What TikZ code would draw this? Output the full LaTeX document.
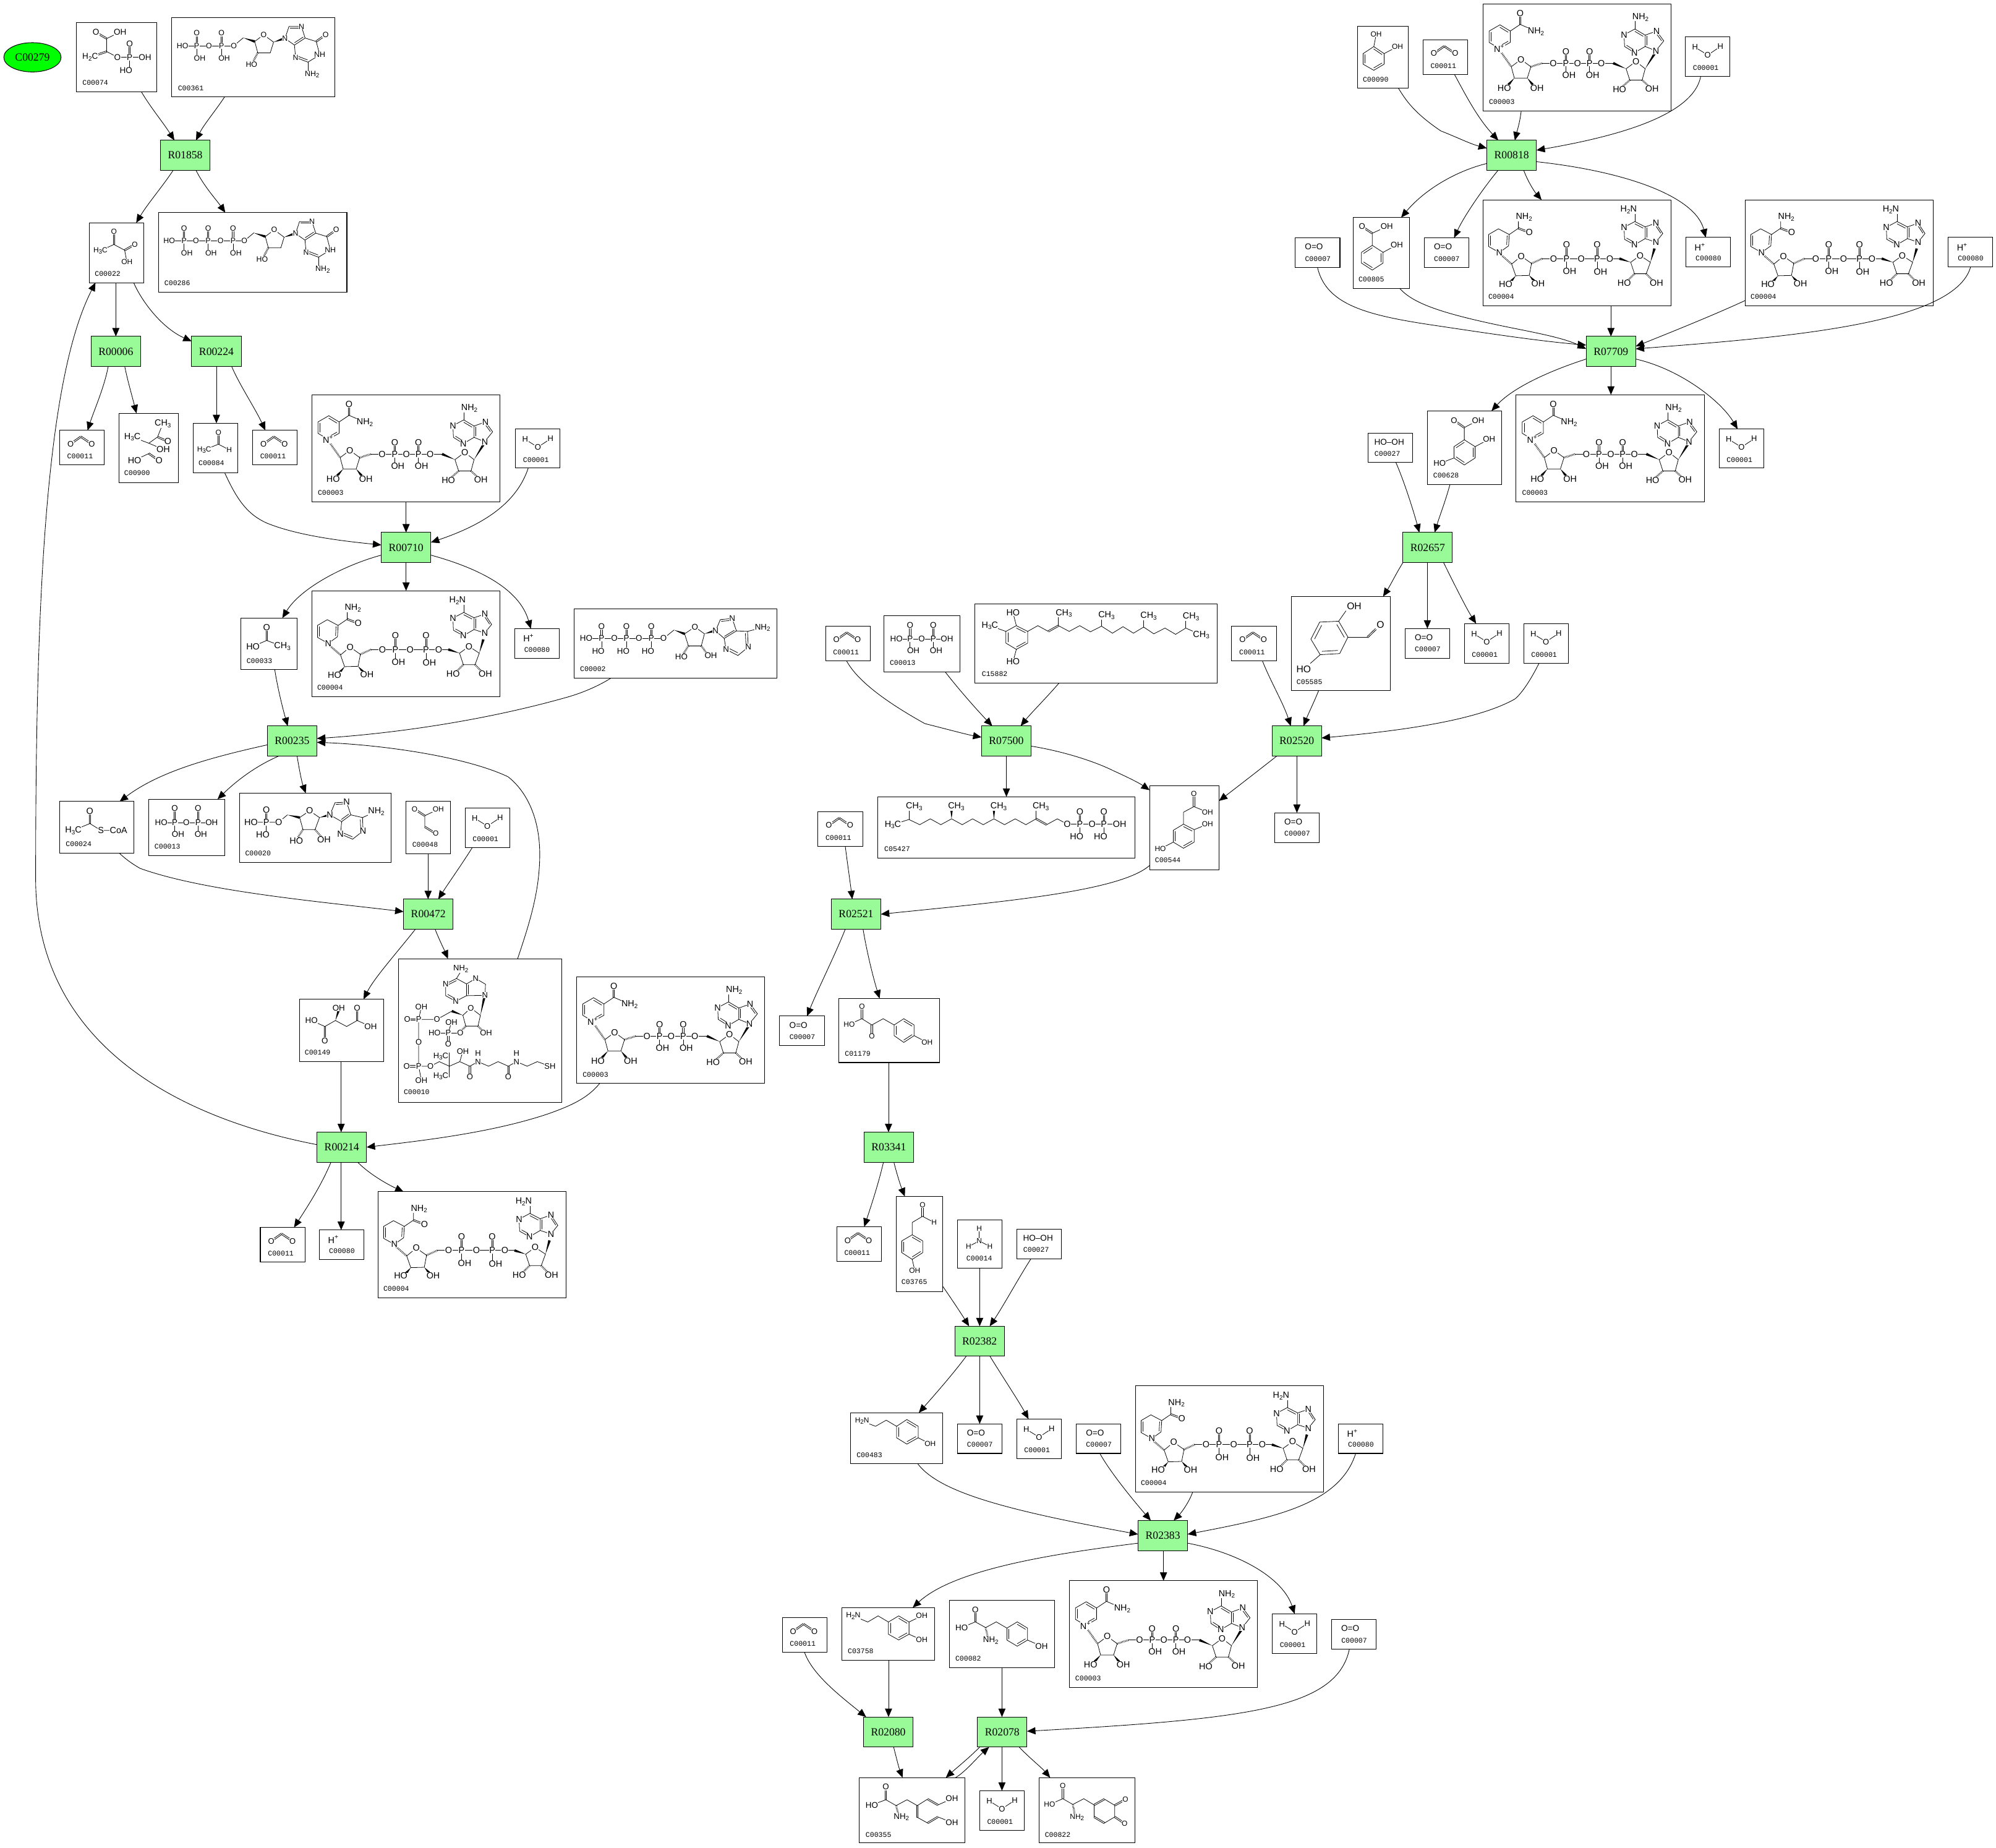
\documentclass[tikz,border=0pt]{standalone}
\usepackage{fontspec}
\setmainfont{Liberation Sans}
\newfontfamily\rxnfont{Liberation Serif}
\newfontfamily\cidfont{Liberation Mono}
\usetikzlibrary{arrows.meta,calc,shapes.geometric}
\definecolor{rxngreen}{RGB}{152,251,152}
\definecolor{hitgreen}{RGB}{0,255,0}
\tikzset{
 bd/.style={line width=.38pt,line cap=round},
 atom/.style={font=\fontsize{7}{7}\selectfont,fill=white,inner sep=.2pt},
 cidl/.style={font=\cidfont\fontsize{5.6}{5.6}\selectfont,anchor=west,inner sep=0pt},
 cpd/.style={draw=black,fill=white,rectangle,inner sep=0pt,outer sep=0pt,line width=.5pt},
 rxn/.style={draw=black,fill=rxngreen,rectangle,inner sep=0pt,outer sep=0pt,line width=.5pt,minimum width=39pt,minimum height=23.6pt,font=\rxnfont\fontsize{8.6}{8.6}\selectfont},
 e/.style={line width=.42pt,-{Triangle[length=6.6pt,width=5.6pt]}},
}
\newcommand\dn[1]{\raisebox{-.35ex}{\fontsize{4.8}{4.8}\selectfont #1}}
\newcount\atn
\newcount\idn
\newcommand\Asz[1]{\tikzset{atom/.append style={font=\fontsize{#1}{#1}\selectfont}}}
\newcommand\At[3]{\global\advance\atn by 1 \node[atom] (at\the\atn) at (#1,#2) {#3};}
\newcommand\Id[3]{\global\advance\idn by 1 \node[cidl] (id\the\idn) at (#1,#2) {#3};}
\newcommand\Ln[1]{\draw[bd] #1;}
\newcommand\Db[2]{\draw[bd] ($(#1)!.55pt!90:(#2)$) -- ($(#2)!.55pt!-90:(#1)$);\draw[bd] ($(#1)!.55pt!-90:(#2)$) -- ($(#2)!.55pt!90:(#1)$);}
\newcommand\Ri[3]{\draw[bd] ($(#2)!.2!(#1)$) -- ($(#3)!.2!(#1)$);}
\newcommand\Wd[2]{\fill (#1) -- ($(#2)!1pt!90:(#1)$) -- ($(#2)!1pt!-90:(#1)$) -- cycle;}
\newcommand\Hs[2]{\draw[line width=1.5pt,dash pattern=on .35pt off .75pt] (#1) -- (#2);}
\newcommand\PG[6]{\Db{#1,#2}{#1,#3}\Ln{(#1,#2)--(#1,#5)}\At{#1}{#3}{O}\At{#4}{#5}{#6}\At{#1}{#2}{P}}
\newcommand\Cp[6]{\node[cpd,minimum width={(#4-#2)*1pt},minimum height={(#5-#3)*1pt}] (#1) at ({(#2+#4)/2},{(#3+#5)/2}) {};
 \begin{scope}[shift={(#2,#3)}]#6\end{scope}}
\newcommand\Rx[3]{\node[rxn] (#1) at (#2,#3) {\MakeUppercase{#1}};}
% small molecules
\newcommand\Mwat{\Asz{6.3}\Ln{(7.6,8.1)--(17.5,14.2)--(27.5,7.6)}\At{7.6}{8.1}{H}\At{17.5}{14.2}{O}\At{27.5}{7.6}{H}\Id{5.7}{24.3}{C00001}}
\newcommand\Mcot{\Asz{6.3}\Db{16.7,5}{8.6,10.7}\Db{16.7,5}{25.3,10.7}\At{8.6}{10.7}{O}\At{25.3}{10.7}{O}\Id{5.8}{20.4}{C00011}}
\newcommand\Moxy{\Asz{6.6}\At{14.7}{7.1}{O=O}\Id{7.5}{16.4}{C00007}}
\newcommand\Mhyd{\At{11}{7.4}{H\textsuperscript{+}}\Id{7.3}{16.4}{C00080}}
\newcommand\Mperox{\Asz{6.6}\At{16.7}{7.2}{HO--OH}\Id{5}{16.2}{C00027}}
\newcommand\Mamm{\Asz{5.8}\Ln{(17.3,6.8)--(17.3,16.4)}\Ln{(8.9,20.8)--(17.3,16.4)--(25.6,20.8)}\At{17.3}{6.8}{H}\At{17.3}{16.4}{N}\At{8.9}{20.8}{H}\At{25.6}{20.8}{H}\Id{7}{30}{C00014}}
% NAD+
\newcommand\Mnad{%
 \Ln{(13.3,16.5)--(21.4,21.4)--(21.4,30.3)--(12.8,35.1)--(4.8,30.3)--(4.8,21.4)--cycle}
 \Ri{13,26}{13.3,16.5}{21.4,21.4}\Ri{13,26}{21.4,30.3}{12.8,35.1}\Ri{13,26}{4.8,30.3}{4.8,21.4}
 \Ln{(21.4,21.4)--(29.2,16.2)--(38,20)}\Db{29.2,16.2}{29.2,8}
 \Hs{12.8,36}{22.2,49.4}
 \Ln{(22.2,49.4)--(29.8,43.7)--(37.6,49.4)--(34.8,58.3)--(24.6,58.3)--cycle}
 \Wd{24.6,58.3}{20,63.5}\Wd{34.8,58.3}{39,63.5}
 \Hs{37.6,49.4}{46.5,46.6}
 \Ln{(46.5,46.6)--(102.3,46.6)}\Wd{112.4,51}{102.3,46.6}
 \Ln{(112.4,51)--(120.1,45.3)--(127.4,51)--(125,59.9)--(115.3,59.9)--cycle}
 \Hs{115.3,59.9}{109.5,65}\Hs{125,59.9}{130.5,65}
 \Wd{127.4,51}{135.2,38.5}
 \Ln{(135.8,36.9)--(142,29.1)--(136.3,21.4)--(127.4,24.6)--(127.4,33.5)--(119,38.4)--(111.2,33.5)--(110.8,24.3)--(119.3,19.8)--(127.4,24.6)}
 \Ln{(127.4,33.5)--(135.8,36.9)}\Ln{(119.3,19.8)--(119.3,12.5)}
 \Ri{119.3,29}{119.3,19.8}{127.4,24.6}\Ri{119.3,29}{111.2,33.5}{119,38.4}\Ri{133,28}{127.4,24.6}{127.4,33.5}\Ri{133,28}{142,29.1}{136.3,21.4}
 \At{12.8}{35.1}{N\textsuperscript{+}}\At{29.2}{7.3}{O}\At{41.6}{21.9}{NH\dn2}\At{29.8}{43.7}{O}\At{16.7}{66}{HO}\At{42.4}{66}{OH}
 \At{55.2}{46.6}{O}\PG{65.1}{46.6}{37.6}{67.5}{55.9}{OH}\At{74.3}{46.6}{O}\PG{83.7}{46.6}{37.6}{86.1}{55.9}{OH}\At{92.9}{46.6}{O}
 \At{120.1}{45.3}{O}\At{107.2}{67.2}{HO}\At{132.8}{66.7}{OH}\At{135.8}{36.9}{N}\At{136.3}{21.4}{N}\At{119}{38.4}{N}\At{110.8}{24.3}{N}\At{123.7}{10.5}{NH\dn2}
 \Id{4.5}{76.9}{C00003}}
% NADH
\newcommand\Mnadh{%
 \Ln{(12.1,22.7)--(20.6,27.2)--(20.1,36.1)--(12.8,41.3)--(4.4,36.6)--(4.4,27.2)--cycle}
 \Ri{12.5,32}{20.6,27.2}{20.1,36.1}\Ri{12.5,32}{4.4,36.6}{4.4,27.2}
 \Ln{(20.6,27.2)--(27.8,22.3)--(27.8,15.9)}\Db{27.8,22.3}{36.4,25.6}
 \Hs{12.8,42}{22.5,50.4}
 \Ln{(22.5,50.4)--(30,44.2)--(38.1,49.9)--(36.3,59.3)--(25.7,59.6)--cycle}
 \Wd{25.7,59.6}{22,64}\Wd{36.3,59.3}{40,63.5}
 \Hs{38.1,49.9}{46.5,46.1}
 \Ln{(46.5,46.1)--(107.2,46.1)}\Wd{116,49}{107.2,46.1}
 \Ln{(116,49)--(123.4,43.7)--(131.5,49)--(128.2,58)--(119,58)--cycle}
 \Hs{119,58}{113.5,63.5}\Hs{128.2,58}{133.5,63.5}
 \Wd{131.5,49}{134.7,38.2}
 \Ln{(135.8,33.2)--(141.2,26.4)--(135.8,18.3)--(127.4,21.2)--(127.4,30.4)--(119,35.3)--(111.2,31)--(110.8,21.5)--(119.3,17)--(127.4,21.2)}
 \Ln{(127.4,30.4)--(135.8,33.2)}\Ln{(119.3,17)--(119.3,10.2)}
 \Ri{119.3,26}{119.3,17}{127.4,21.2}\Ri{119.3,26}{111.2,31}{119,35.3}\Ri{133,25}{127.4,21.2}{127.4,30.4}\Ri{133,25}{141.2,26.4}{135.8,18.3}
 \At{12.8}{41.3}{N}\At{36.4}{25.6}{O}\At{32.2}{13.4}{NH\dn2}\At{30}{44.2}{O}\At{17.8}{66.1}{HO}\At{43.3}{65.7}{OH}
 \At{55.4}{46.1}{O}\PG{65.6}{46.1}{35.3}{68}{56}{OH}\At{77.2}{46.1}{O}\PG{89.7}{46.1}{35.3}{92.3}{56.7}{OH}\At{99.6}{46.1}{O}
 \At{123.4}{43.7}{O}\At{110.9}{65.3}{HO}\At{136.3}{65.3}{OH}\At{135.8}{33.2}{N}\At{135.8}{18.3}{N}\At{119}{35.3}{N}\At{110.8}{21.5}{N}\At{114.4}{7.8}{H\dn2N}
 \Id{4}{76}{C00004}}
% deoxyguanosine part, in C00361 coordinates
\newcommand\Dgn{%
 \Ln{(48.7,21.9)--(56.1,15.7)}\Wd{56.1,15.7}{65.1,18.6}
 \Ln{(65.1,18.6)--(72.1,13.3)--(79.9,19.1)--(77.3,27.5)--(67.5,27.5)--cycle}
 \Hs{67.5,27.5}{64,34}\Wd{79.9,19.1}{87.5,16.5}
 \Ln{(88.9,16.2)--(92,6.8)--(101.8,6.8)--(104.7,15.9)--(96.3,21.4)--(88.9,16.2)}
 \Ln{(104.7,15.9)--(113.4,18.6)--(116.2,29.1)--(106.9,34.8)--(97.2,31.1)--(96.3,21.4)}
 \Ln{(106.9,34.8)--(106.9,42)}\Db{113.4,18.6}{120.8,13.3}
 \Ri{97,12}{92,6.8}{101.8,6.8}\Ri{97,12}{104.7,15.9}{96.3,21.4}\Ri{105,26}{97.2,31.1}{106.9,34.8}
 \At{72.1}{13.3}{O}\At{62.6}{36.4}{HO}\At{88.9}{16.2}{N}\At{101.8}{6.8}{N}\At{97.2}{31.1}{N}\At{116.2}{29.1}{NH}\At{120.8}{13.3}{O}\At{110.2}{44.5}{NH\dn2}}
\newcommand\Mgdp{\Asz{6}%
 \Ln{(8.4,21.9)--(48.7,21.9)}
 \At{8.4}{21.9}{HO}\PG{19.5}{21.9}{12.1}{21.9}{31.6}{OH}\At{29.2}{21.9}{O}\PG{39}{21.9}{12.1}{41.1}{31.6}{OH}
 \Dgn\At{48.7}{21.9}{O}\Id{4.6}{55.4}{C00361}}
\newcommand\Mgtp{\Asz{6}%
 \Ln{(8.4,22)--(67.9,22)}
 \At{8.4}{22}{HO}\PG{20.1}{22}{12.3}{22.3}{31.7}{OH}\At{29.4}{22}{O}\PG{39}{22}{12.3}{41.3}{31.7}{OH}\At{48.7}{22}{O}\PG{58.6}{22}{12.3}{60.8}{31.7}{OH}
 \begin{scope}[shift={(18.8,.2)}]\Dgn\At{48.7}{21.8}{O}\end{scope}\Id{4.5}{55.5}{C00286}}
\newcommand\Mpep{\Asz{6.6}%
 \Db{23.8,12.8}{15.4,7.9}\Ln{(34.4,7.6)--(23.8,12.8)--(23.8,23)}\Db{23.8,23}{10.8,27.4}\Ln{(23.8,23)--(32.2,27.4)--(53.9,27.4)}
 \At{15.4}{7.9}{O}\At{34.4}{7.6}{OH}\At{10.8}{27.4}{H\dn2C}\At{32.2}{27.4}{O}\PG{41.8}{27.4}{16.8}{39}{37.9}{HO}\At{53.9}{27.4}{OH}\Id{4.6}{47.6}{C00074}}
\newcommand\Mpyr{\Asz{5.8}%
 \Db{19.5,17}{19.5,6.8}\Ln{(8.9,21.9)--(19.5,17)--(27.9,21.5)--(29.7,30.8)}\Db{27.9,21.5}{35.9,17}
 \At{19.5}{6.8}{O}\At{8.9}{21.9}{H\dn3C}\At{35.9}{17}{O}\At{29.7}{30.8}{OH}\Id{4.3}{40}{C00022}}
\newcommand\Mace{%
 \Ln{(34.5,8.1)--(30.4,18.6)--(23.5,23.5)--(10.6,18.6)}\Ln{(23.5,23.5)--(34.8,28.3)}\Db{30.4,18.6}{38.5,22.2}
 \Ln{(12.3,36.9)--(23.5,31.6)}\Db{23.5,31.6}{31.6,37.2}
 \At{34.5}{8.1}{CH\dn3}\At{10.6}{18.6}{H\dn3C}\At{38.5}{22.2}{O}\At{34.8}{28.3}{OH}\At{12.3}{36.9}{HO}\At{31.6}{37.2}{O}\Id{4}{46.9}{C00900}}
\newcommand\Mald{\Asz{5.8}%
 \Db{19.8,16.5}{19.8,7.1}\Ln{(8.6,20.9)--(19.8,16.5)--(28.3,20.9)}
 \At{19.8}{7.1}{O}\At{28.3}{20.9}{H}\At{8.6}{20.9}{H\dn3C}\Id{4}{31.4}{C00084}}
\newcommand\Maca{%
 \Db{20.4,17.6}{20.4,7.6}\Ln{(9.6,22.3)--(20.4,17.6)--(32.7,22.3)}
 \At{20.4}{7.6}{O}\At{9.6}{22.3}{HO}\At{32.7}{22.3}{CH\dn3}\Id{4.4}{33.5}{C00033}}
\newcommand\Matp{\Asz{6.5}%
 \Ln{(9.5,23.1)--(70.3,23.1)}
 \At{9.5}{23.1}{HO}\PG{21.6}{23.1}{13.7}{19}{32.9}{HO}\At{31.6}{23.1}{O}\PG{41.1}{23.1}{13.7}{38.6}{32.9}{HO}\At{50.9}{23.1}{O}\PG{60.7}{23.1}{13.7}{58}{32.9}{HO}
 \Ln{(70.3,23.1)--(78.5,16.5)}\Wd{78.5,16.5}{86.8,19.5}
 \Ln{(86.8,19.5)--(94.9,14.1)--(102.4,19.5)--(99.9,29)--(89.8,29)--cycle}
 \Hs{89.8,29}{86,35}\Hs{99.9,29}{104,34.5}\Wd{102.4,19.5}{110,17.2}
 \Ln{(111.1,17.2)--(114.9,8.3)--(124.2,7.5)--(127.5,17.2)--(117.9,23.1)--(111.1,17.2)}
 \Ln{(127.5,17.2)--(136.2,17.6)--(136.8,29.9)--(128.7,36.5)--(119.4,31.8)--(117.9,23.1)}\Ln{(136.2,17.6)--(148,14.6)}
 \Ri{119,15}{114.9,8.3}{124.2,7.5}\Ri{119,15}{127.5,17.2}{117.9,23.1}\Ri{128,26}{136.2,17.6}{136.8,29.9}\Ri{128,26}{119.4,31.8}{128.7,36.5}
 \At{70.3}{23.1}{O}\At{94.9}{14.1}{O}\At{84.3}{37.6}{HO}\At{107.4}{36.5}{OH}\At{111.1}{17.2}{N}\At{124.2}{7.5}{N}\At{119.4}{31.8}{N}\At{136.8}{29.9}{N}\At{148}{14.6}{NH\dn2}
 \Id{4.5}{47.3}{C00002}}
\newcommand\Mamp{%
 \Ln{(9,22.7)--(30.7,22.7)--(37.6,17)}\Wd{37.6,17}{47.2,19.1}
 \Ln{(47.2,19.1)--(55,13.8)--(62.8,19.1)--(59.3,28.5)--(49.8,28.5)--cycle}
 \Hs{49.8,28.5}{46,34.5}\Hs{59.3,28.5}{64,34}\Wd{62.8,19.1}{70,17.2}
 \Ln{(71,17)--(75,7.4)--(84.1,7)--(87.4,17)--(80.2,22.3)--(71,17)}
 \Ln{(87.4,17)--(96.6,19.1)--(97,29.6)--(88.8,36.1)--(79.3,32)--(80.2,22.3)}\Ln{(96.6,19.1)--(107.4,14.2)}
 \Ri{79,14}{75,7.4}{84.1,7}\Ri{79,14}{87.4,17}{80.2,22.3}\Ri{88,27}{96.6,19.1}{97,29.6}\Ri{88,27}{79.3,32}{88.8,36.1}
 \At{9}{22.7}{HO}\PG{21}{22.7}{13.1}{18.2}{32.4}{HO}\At{30.7}{22.7}{O}\At{55}{13.8}{O}\At{44.6}{37.2}{HO}\At{66.3}{36.4}{OH}\At{71}{17}{N}\At{84.1}{7}{N}\At{79.3}{32}{N}\At{97}{29.6}{N}\At{107.4}{14.2}{NH\dn2}
 \Id{4.2}{47}{C00020}}
\newcommand\Mppi{\Asz{6.5}%
 \Ln{(9.9,18.3)--(49.6,18.3)}
 \At{9.9}{18.3}{HO}\PG{20.6}{18.3}{7.3}{23.2}{27.5}{OH}\At{29.7}{18.3}{O}\PG{38.9}{18.3}{7.3}{41.1}{27.5}{OH}\At{49.6}{18.3}{OH}\Id{4.5}{37.2}{C00013}}
\newcommand\Macoa{%
 \Db{23.8,17.3}{23.8,7.6}\Ln{(10.8,22.7)--(23.8,17.3)--(32.5,22.7)--(40,22.7)}
 \At{23.8}{7.6}{O}\At{10.8}{22.7}{H\dn3C}\At{32.5}{22.7}{S}\At{46.3}{22.7}{CoA}\Id{4.7}{33.5}{C00024}}
\newcommand\Mglx{\Asz{5.8}%
 \Db{15,11.3}{7,6.1}\Ln{(25.6,6.1)--(15,11.3)--(15,20)}\Db{15,20}{23.6,25.3}
 \At{7}{6.1}{O}\At{25.6}{6.1}{OH}\At{23.6}{25.3}{O}\Id{5}{34.1}{C00048}}
\newcommand\Mmal{\Asz{6.5}%
 \Ln{(9.5,16.7)--(20,21.4)--(28.3,16.7)--(37.1,21.4)--(45.4,16.7)--(56,21.4)}\Db{20,21.4}{20,32.5}\Db{45.4,16.7}{45.4,7}\Wd{28.3,16.7}{30.9,8.5}
 \At{9.5}{16.7}{HO}\At{20}{32.5}{O}\At{30.9}{7}{OH}\At{45.4}{7}{O}\At{56}{21.4}{OH}\Id{4}{41.9}{C00149}}
\newcommand\Mcoa{\Asz{6.3}%
 \Ln{(49,10)--(45.6,15.5)--(37.1,19.8)--(37.1,29)--(45,33.4)--(53.5,29)--(53.5,19.8)--(45.6,15.5)}
 \Ln{(53.5,19.8)--(60.7,15.5)--(68.4,20)--(68,28.7)--(53.5,29)}
 \Ri{45,24}{45.6,15.5}{37.1,19.8}\Ri{45,24}{37.1,29}{45,33.4}\Ri{60,23}{53.5,19.8}{53.5,29}
 \Wd{64.4,44.4}{67.5,30}
 \Ln{(64.4,44.4)--(56.9,38.7)--(50.6,44.4)--(52.9,52.9)--(62.5,52.9)--cycle}
 \Hs{62.5,52.9}{66,56.5}\Wd{50.6,44.4}{42,41.1}
 \Ln{(42,41.1)--(30.3,47.6)--(15.9,47.6)--(15.9,84.4)--(25.2,84.4)--(32.1,80.8)--(40,84.4)--(48.2,80.8)--(56.1,84.4)--(62.5,80.8)--(70.8,84.4)--(78.3,80.8)--(86.3,84.4)--(92.8,80.8)--(101.1,84.4)--(109.1,80.8)--(119,84.4)}
 \Ln{(40,73.8)--(40,92.9)}\Ln{(48.2,80.8)--(50.6,72.7)}\Db{56.1,84.4}{56.1,92.9}\Db{86.3,84.4}{86.3,92.9}
 \Ln{(18,37.9)--(15.9,47.6)}\Db{15.9,47.6}{6.9,47.6}\Db{15.9,84.4}{6.5,84.4}\Ln{(15.9,84.4)--(18,95.4)}
 \Hs{52.9,52.9}{48.6,57.5}\Ln{(48.6,58.4)--(28.4,58.4)}\Ln{(39.1,58.4)--(41.6,50)}\Db{39.1,58.4}{39.1,67}
 \At{49}{7.9}{NH\dn2}\At{37.1}{19.8}{N}\At{45}{33.4}{N}\At{60.7}{15.5}{N}\At{68}{28.7}{N}\At{56.9}{38.7}{O}\At{68.8}{58.4}{OH}
 \At{30.3}{47.6}{O}\At{15.9}{47.6}{P}\At{18}{37.9}{OH}\At{6.9}{47.6}{O}\At{15.9}{65.7}{O}\At{15.9}{84.4}{P}\At{6.5}{84.4}{O}\At{18}{95.4}{OH}\At{25.2}{84.4}{O}
 \At{33.3}{76.7}{H\dn3C}\At{33.3}{92.1}{H\dn3C}\At{50.6}{72.7}{OH}\At{56.1}{92.9}{O}\At{62.5}{80.8}{N}\At{62.5}{74}{H}\At{86.3}{92.9}{O}\At{92.8}{80.8}{N}\At{92.8}{74}{H}\At{119}{84.4}{SH}
 \At{48.6}{58.4}{O}\At{39.1}{58.4}{P}\At{41.6}{50}{OH}\At{28.4}{58.4}{HO}\At{39.1}{67}{O}\Id{4}{104.8}{C00010}}
\newcommand\Mdmh{%
 \Ln{(32.7,17.2)--(41.6,21.7)--(41.6,30.9)--(32.7,35.8)--(24.5,30.9)--(24.5,21.7)--cycle}
 \Ri{33,26.5}{32.7,17.2}{41.6,21.7}\Ri{33,26.5}{41.6,30.9}{32.7,35.8}\Ri{33,26.5}{24.5,30.9}{24.5,21.7}
 \Ln{(30.1,7.1)--(32.7,17.2)}\Ln{(11.9,17.2)--(24.5,21.7)}\Ln{(32.7,35.8)--(30.1,45.5)}
 \Ln{(41.6,21.7)--(49.6,17.2)--(57.8,21.7)}\Db{57.8,21.7}{65.8,17.2}
 \Ln{(65.8,17.2)--(74.2,21.7)--(82.5,17.2)--(90.9,22)--(99.6,17.6)--(108.2,23.1)--(116.5,18)--(124.7,23.1)--(132.7,18.3)--(140.7,23.6)--(149.5,19.1)--(157.8,24)--(165.8,19.1)--(177.9,24.4)}
 \Ln{(65.8,17.2)--(65.8,10.7)}\Ln{(99.6,17.6)--(99.6,11)}\Ln{(132.7,18.3)--(132.7,12)}\Ln{(165.8,19.1)--(165.8,12.5)}
 \At{30.1}{7.1}{HO}\At{11.9}{17.2}{H\dn3C}\At{30.1}{45.5}{HO}\At{70}{7.4}{CH\dn3}\At{103.5}{9}{CH\dn3}\At{136.6}{9.6}{CH\dn3}\At{169.9}{10.2}{CH\dn3}\At{177.9}{24.4}{CH\dn3}
 \Id{5.4}{55.2}{C15882}}
\newcommand\Mppp{%
 \Ln{(11.9,21.9)--(24.5,17.8)--(33,21.9)--(41.3,17.3)--(49.6,21.9)--(58,17.3)--(66.4,21.9)--(74.5,17.3)--(82.9,21.9)--(91.3,17.3)--(99.6,21.9)--(108,17.3)--(116.4,21.9)--(124.4,17.3)}
 \Db{124.4,17.3}{132.7,21.9}\Ln{(132.7,21.9)--(141.1,17.3)--(148.9,21.5)--(190,21.5)}
 \Ln{(24.5,17.8)--(24.5,10)}\Wd{58,17.3}{58,10}\Wd{91.3,17.3}{91.3,10}\Ln{(124.4,17.3)--(124.4,10)}
 \At{11.9}{21.9}{H\dn3C}\At{28.6}{7.6}{CH\dn3}\At{61.7}{7.6}{CH\dn3}\At{95}{7.6}{CH\dn3}\At{128.1}{7.6}{CH\dn3}
 \At{148.9}{21.5}{O}\PG{158.8}{21.5}{11.8}{156.3}{31.2}{HO}\At{168.4}{21.5}{O}\PG{177.7}{21.5}{11.8}{175.1}{31.2}{HO}\At{190}{21.5}{OH}\Id{5}{41}{C05427}}
\newcommand\Mhga{\Asz{5.8}%
 \Db{34.8,16.5}{34.8,6.3}\Ln{(45.5,20.9)--(34.8,16.5)--(26.6,20.9)--(26.6,30.3)}
 \Ln{(26.6,30.3)--(35,34.6)--(35,44.4)--(26.6,49.2)--(18.6,44.4)--(18.6,35.1)--cycle}
 \Ri{26.8,39.8}{26.6,30.3}{35,34.6}\Ri{26.8,39.8}{35,44.4}{26.6,49.2}\Ri{26.8,39.8}{18.6,44.4}{18.6,35.1}
 \Ln{(35,34.6)--(45.5,30.3)}\Ln{(18.6,44.4)--(8.4,49.7)}
 \At{34.8}{6.3}{O}\At{45.5}{20.9}{OH}\At{45.5}{30.3}{OH}\At{8.4}{49.7}{HO}\Id{4}{58.6}{C00544}}
\newcommand\Mgen{\Asz{7.6}%
 \Ln{(37.2,19.4)--(44.5,31.9)--(38,44.8)--(22.7,45.7)--(15.4,33.5)--(22.3,20.1)--cycle}
 \Ri{30,32.5}{37.2,19.4}{44.5,31.9}\Ri{30,32.5}{38,44.8}{22.7,45.7}\Ri{30,32.5}{15.4,33.5}{22.3,20.1}
 \Ln{(37.2,19.4)--(42.9,11.3)}\Ln{(44.5,31.9)--(59.9,31.9)}\Db{59.9,31.9}{66.5,25.5}\Ln{(22.7,45.7)--(15,52.5)}
 \At{49.4}{7.6}{OH}\At{70}{22.2}{O}\At{9.7}{57.3}{HO}\Id{4}{67}{C05585}}
\newcommand\Mcat{\Asz{5.8}%
 \Ln{(12.8,16)--(20.9,21.5)--(20.9,29.8)--(12.8,34.6)--(4.4,29.8)--(4.4,21.5)--cycle}
 \Ri{12.7,25.3}{12.8,16}{20.9,21.5}\Ri{12.7,25.3}{20.9,29.8}{12.8,34.6}\Ri{12.7,25.3}{4.4,29.8}{4.4,21.5}
 \Ln{(14.7,6.4)--(12.8,16)}\Ln{(20.9,21.5)--(31.4,16)}
 \At{14.7}{6.4}{OH}\At{31.4}{16}{OH}\Id{4}{41.7}{C00090}}
\newcommand\Msal{\Asz{6.4}%
 \Db{15,12.4}{7,7.2}\Ln{(26.4,7.2)--(15,12.4)--(15,21.9)}
 \Ln{(15,21.9)--(23.5,27.4)--(23.5,35.8)--(15,41.3)--(6.5,35.8)--(6.5,27.4)--cycle}
 \Ri{15,31.6}{15,21.9}{6.5,27.4}\Ri{15,31.6}{23.5,27.4}{23.5,35.8}\Ri{15,31.6}{15,41.3}{6.5,35.8}
 \Ln{(23.5,27.4)--(34.3,21.5)}
 \At{7}{7.2}{O}\At{26.4}{7.2}{OH}\At{34.3}{21.5}{OH}\Id{4}{48.4}{C00805}}
\newcommand\Mgent{\Asz{6.4}%
 \Db{29.1,13.1}{21,7.4}\Ln{(40,7.4)--(29.1,13.1)--(29.1,22.7)}
 \Ln{(29.1,22.7)--(37.6,28.1)--(37.6,37)--(29.1,42.5)--(21,37)--(21,28.1)--cycle}
 \Ri{29.2,32.5}{29.1,22.7}{21,28.1}\Ri{29.2,32.5}{37.6,28.1}{37.6,37}\Ri{29.2,32.5}{29.1,42.5}{21,37}
 \Ln{(37.6,28.1)--(48.6,22.2)}\Ln{(21,37)--(9.7,41.3)}
 \At{21}{7.4}{O}\At{40}{7.4}{OH}\At{48.6}{22.2}{OH}\At{9.7}{41.3}{HO}\Id{4.5}{50.8}{C00628}}
\newcommand\Mhpp{\Asz{5.8}%
 \Db{18.1,15.9}{18.1,6.3}\Ln{(8.1,20.3)--(18.1,15.9)--(25.9,20.8)--(34.8,15.9)--(43.4,20.8)}\Db{25.9,20.8}{25.9,29.7}
 \Ln{(43.4,20.8)--(51,15.9)--(59.1,20.8)--(59.1,29.2)--(51,34.5)--(43.4,29.2)--cycle}
 \Ri{51,25.2}{51,15.9}{59.1,20.8}\Ri{51,25.2}{59.1,29.2}{51,34.5}\Ri{51,25.2}{43.4,29.2}{43.4,20.8}
 \Ln{(59.1,29.2)--(69.3,34.5)}
 \At{18.1}{6.3}{O}\At{8.1}{20.3}{HO}\At{25.9}{29.7}{O}\At{69.3}{34.5}{OH}\Id{4.5}{43.2}{C01179}}
\newcommand\Mhpa{\Asz{5.8}%
 \Db{20.7,15.7}{20.7,6.8}\Ln{(29.8,20.5)--(20.7,15.7)--(12.6,20.5)--(12.6,30.2)}
 \Ln{(12.6,30.2)--(20.9,35)--(20.9,44.2)--(12.6,49.5)--(4.4,44.2)--(4.4,35)--cycle}
 \Ri{12.6,39.8}{12.6,30.2}{20.9,35}\Ri{12.6,39.8}{20.9,44.2}{12.6,49.5}\Ri{12.6,39.8}{4.4,44.2}{4.4,35}
 \Ln{(12.6,49.5)--(14.6,58.2)}
 \At{20.7}{6.8}{O}\At{29.8}{20.5}{H}\At{14.6}{58.2}{OH}\Id{4}{67.2}{C03765}}
\newcommand\Mtyr{\Asz{5.8}%
 \Ln{(9.2,6.5)--(19.8,10.6)--(28.2,5.8)--(36.3,10.6)}
 \Ln{(36.3,10.6)--(44.4,5.3)--(53.3,10.6)--(53.3,19.6)--(44.4,24.6)--(36.3,19.6)--cycle}
 \Ri{44.7,15}{44.4,5.3}{53.3,10.6}\Ri{44.7,15}{53.3,19.6}{44.4,24.6}\Ri{44.7,15}{36.3,19.6}{36.3,10.6}
 \Ln{(53.3,19.6)--(62.7,24.4)}
 \At{9.2}{6.5}{H\dn2N}\At{62.7}{24.4}{OH}\Id{4.7}{33}{C00483}}
\newcommand\Mdop{\Asz{6}%
 \Ln{(9,6.5)--(20.4,11.3)--(28.5,6.5)--(36.6,11.3)}
 \Ln{(36.6,11.3)--(44.7,6.5)--(52.8,11.3)--(52.8,20.9)--(44.7,25.4)--(36.6,20.9)--cycle}
 \Ri{44.7,16}{44.7,6.5}{52.8,11.3}\Ri{44.7,16}{52.8,20.9}{44.7,25.4}\Ri{44.7,16}{36.6,20.9}{36.6,11.3}
 \Ln{(52.8,11.3)--(62.8,6.5)}\Ln{(52.8,20.9)--(62.8,25.4)}
 \At{9}{6.5}{H\dn2N}\At{62.8}{6.5}{OH}\At{62.8}{25.4}{OH}\Id{4.5}{34.3}{C03758}}
\newcommand\Mtyrr{\Asz{6.5}%
 \Db{20.4,17}{20.4,7.3}\Ln{(9.6,21.5)--(20.4,17)--(28.5,21.5)--(36.8,17)--(45.2,21.9)}\Hs{28.5,21.5}{30,28.5}
 \Ln{(45.2,21.9)--(53.3,17)--(61.4,21.9)--(61.4,31.3)--(53.3,36.1)--(45.2,31.3)--cycle}
 \Ri{53.3,26.5}{53.3,17}{61.4,21.9}\Ri{53.3,26.5}{61.4,31.3}{53.3,36.1}\Ri{53.3,26.5}{45.2,31.3}{45.2,21.9}
 \Ln{(61.4,31.3)--(72.4,36.1)}
 \At{20.4}{7.3}{O}\At{9.6}{21.5}{HO}\At{32.5}{31.6}{NH\dn2}\At{72.4}{36.1}{OH}\Id{4.5}{45.8}{C00082}}
\newcommand\Mdopa{\Asz{6.5}%
 \Db{21,17.3}{21,7.3}\Ln{(10,21.4)--(21,17.3)--(29.1,21.9)--(37.6,17.3)--(45.7,21.9)}\Hs{29.1,21.9}{30.5,27.5}
 \Ln{(45.7,21.9)--(53.8,16.8)}\Db{53.8,16.8}{61.9,21.4}\Ln{(61.9,21.4)--(72.9,16.5)}
 \Db{45.7,21.9}{45.7,31.1}\Ln{(45.7,31.1)--(53.8,35.6)}\Db{53.8,35.6}{61.9,30.8}\Ln{(61.9,30.8)--(72.9,35.1)}
 \At{21}{7.3}{O}\At{10}{21.4}{HO}\At{33.2}{30.8}{NH\dn2}\At{72.9}{16.5}{OH}\At{72.9}{35.1}{OH}\Id{4.9}{44.9}{C00355}}
\newcommand\Mdq{\Asz{5.8}%
 \Db{18.8,16.5}{18.8,6.3}\Ln{(8.4,21)--(18.8,16.5)--(26.7,21)--(35.3,16.5)--(43.4,21.4)}\Hs{26.7,21}{28,28}
 \Db{43.4,21.4}{51.5,16.8}\Ln{(51.5,16.8)--(59.6,21.7)--(59.6,30.8)--(51.5,35.6)}\Db{51.5,35.6}{43.4,30.8}\Ln{(43.4,30.8)--(43.4,21.4)}
 \Db{59.6,21.7}{68,17}\Db{59.6,30.8}{67.3,35.9}
 \At{18.8}{6.3}{O}\At{8.4}{21}{HO}\At{30}{31}{NH\dn2}\At{68}{17}{O}\At{67.3}{35.9}{O}\Id{4.5}{44.9}{C00822}}
\begin{document}
\begin{tikzpicture}[x=1pt,y=-1pt]
\useasboundingbox (0,0) rectangle (1568,1451);
\fill[white] (0,0) rectangle (1568,1451);
\node[draw=black,fill=hitgreen,ellipse,inner sep=0pt,outer sep=0pt,line width=.5pt,minimum width=45pt,minimum height=23pt,font=\rxnfont\fontsize{8.6}{8.6}\selectfont] (c279) at (25.5,45) {C00279};
% reactions
\Rx{r01858}{145.5}{122}\Rx{r00006}{91}{276}\Rx{r00224}{170}{276}\Rx{r00710}{319}{430}\Rx{r00235}{229.5}{582}\Rx{r00472}{336.5}{718}\Rx{r00214}{268.5}{901}
\Rx{r07500}{790.5}{582}\Rx{r02520}{1018.7}{582}\Rx{r02521}{672.5}{718}\Rx{r03341}{698.2}{901}\Rx{r02382}{769.5}{1053.4}\Rx{r02383}{913.5}{1206}\Rx{r02080}{697.8}{1360.3}\Rx{r02078}{787.3}{1360.3}
\Rx{r00818}{1187.5}{122}\Rx{r07709}{1265.5}{276}\Rx{r02657}{1121.5}{430}
% compounds
\Cp{c74}{60}{17.5}{123}{72}{\Mpep}
\Cp{c361}{135}{14}{263}{76}{\Mgdp}
\Cp{c22}{70}{175}{113}{222}{\Mpyr}
\Cp{c286}{124.5}{167}{272.5}{229.5}{\Mgtp}
\Cp{c11a}{46.8}{338}{81.9}{365}{\Mcot}
\Cp{c908}{93.4}{324.6}{140.2}{379}{\Mace}
\Cp{c84}{151.8}{332.4}{186.8}{371.3}{\Mald}
\Cp{c11b}{198.4}{338}{233.5}{365}{\Mcot}
\Cp{c3a}{245}{310}{392.8}{394}{\Mnad}
\Cp{c1a}{405}{337}{440}{367.5}{\Mwat}
\Cp{c33}{189.1}{485.4}{233.5}{525.7}{\Maca}
\Cp{c4a}{245}{464}{392.8}{547.2}{\Mnadh}
\Cp{c80a}{404.3}{493.8}{439.2}{517.1}{\Mhyd}
\Cp{c2}{451}{478.3}{610.5}{532.7}{\Matp}
\Cp{c24}{46.8}{629.5}{105.3}{670}{\Macoa}
\Cp{c13a}{116.7}{627.7}{176.6}{671.9}{\Mppi}
\Cp{c20}{188.2}{623}{307.2}{677.4}{\Mamp}
\Cp{c48}{318.7}{629.4}{353.9}{670.6}{\Mglx}
\Cp{c1b}{365.4}{634.6}{400.5}{665.7}{\Mwat}
\Cp{c149}{235.2}{784.8}{301.4}{833.7}{\Mmal}
\Cp{c10}{313}{753}{441.2}{865.8}{\Mcoa}
\Cp{c3b}{453}{767.1}{600.5}{851}{\Mnad}
\Cp{c11c}{204.5}{964}{239.7}{991.2}{\Mcot}
\Cp{c80b}{251}{966}{286}{989.3}{\Mhyd}
\Cp{c4b}{297}{936}{444.8}{1019.2}{\Mnadh}
\Cp{c11d}{648.5}{491.8}{683.7}{519}{\Mcot}
\Cp{c13b}{694.3}{483.5}{754.2}{527.8}{\Mppi}
\Cp{c15882}{765.7}{474.2}{956.3}{536.4}{\Mdmh}
\Cp{c11e}{967.5}{491.8}{1002.7}{519}{\Mcot}
\Cp{c5585}{1014.4}{468.5}{1092.1}{542.1}{\Mgen}
\Cp{c7e}{1103.8}{493.7}{1138.7}{517}{\Moxy}
\Cp{c1e}{1150.4}{489.8}{1185.5}{520.9}{\Mwat}
\Cp{c1f}{1197}{489.8}{1232.1}{520.9}{\Mwat}
\Cp{c5427}{689.5}{625.8}{891.6}{673.9}{\Mppp}
\Cp{c544}{903.1}{617}{957.6}{683}{\Mhga}
\Cp{c7f}{1001.3}{638.4}{1036.3}{661.8}{\Moxy}
\Cp{c11f}{642.5}{637.5}{677.7}{664.7}{\Mcot}
\Cp{c7g}{612.5}{798}{647.6}{821.3}{\Moxy}
\Cp{c1179}{659}{784.2}{738}{834.5}{\Mhpp}
\Cp{c11g}{657.3}{963.5}{692.5}{990.8}{\Mcot}
\Cp{c3765}{704}{939.6}{740.4}{1014.4}{\Mhpa}
\Cp{c14}{752}{958.2}{787}{996.1}{\Mamm}
\Cp{c27a}{798.7}{965.4}{833.7}{988.6}{\Mperox}
\Cp{c483}{668}{1109.6}{740.4}{1149.7}{\Mtyr}
\Cp{c7h}{752}{1118.3}{787}{1141.5}{\Moxy}
\Cp{c1h}{798.7}{1114.5}{833.7}{1145.6}{\Mwat}
\Cp{c7i}{845.5}{1118.3}{880.6}{1141.5}{\Moxy}
\Cp{c4c}{892}{1088.5}{1039.8}{1171.7}{\Mnadh}
\Cp{c80c}{1051.5}{1118.3}{1086.5}{1141.5}{\Mhyd}
\Cp{c3758}{661.3}{1262.6}{734.3}{1303.9}{\Mdop}
\Cp{c82}{745.8}{1256.8}{828.5}{1309.9}{\Mtyrr}
\Cp{c3c}{840}{1241.5}{987.8}{1325.2}{\Mnad}
\Cp{c1i}{999.5}{1267.5}{1034.6}{1298.5}{\Mwat}
\Cp{c7j}{1046}{1272}{1081}{1295.3}{\Moxy}
\Cp{c11h}{614.5}{1270.5}{649.7}{1297.7}{\Mcot}
\Cp{c355}{674.9}{1396.2}{758}{1447.5}{\Mdopa}
\Cp{c1j}{769.6}{1406.4}{804.7}{1437.5}{\Mwat}
\Cp{c822}{816.1}{1396.2}{891.5}{1447.5}{\Mdq}
\Cp{c90}{1066.4}{20.6}{1106.3}{69.4}{\Mcat}
\Cp{c11i}{1117.8}{31.3}{1153}{58.5}{\Mcot}
\Cp{c3d}{1165}{3}{1312.8}{87}{\Mnad}
\Cp{c1k}{1324}{29}{1359}{60}{\Mwat}
\Cp{c805}{1063}{170.8}{1107.1}{226.4}{\Msal}
\Cp{c7k}{1118.8}{186.8}{1153.9}{210.2}{\Moxy}
\Cp{c4d}{1165}{157}{1312.8}{240.2}{\Mnadh}
\Cp{c80d}{1324.5}{186.5}{1359.5}{209.8}{\Mhyd}
\Cp{c7l}{1017.5}{186.8}{1052.6}{210.2}{\Moxy}
\Cp{c4e}{1371}{157}{1518.8}{240.2}{\Mnadh}
\Cp{c80e}{1530.5}{186.5}{1565.5}{209.8}{\Mhyd}
\Cp{c628}{1121.2}{322.7}{1179.5}{380.7}{\Mgent}
\Cp{c3e}{1191}{310}{1338.8}{394}{\Mnad}
\Cp{c1l}{1350.5}{337}{1385.6}{367.5}{\Mwat}
\Cp{c27b}{1074.6}{340.2}{1109.6}{363.3}{\Mperox}
% connectors, left column
\draw[e] (c74.south -| 111,0) .. controls (118,84) and (128,96) .. (r01858.north -| 137,0);
\draw[e] (c361.south -| 176.5,0) .. controls (170,86) and (160,98) .. (r01858.north -| 154,0);
\draw[e] (r01858.south -| 136,0) .. controls (128,146) and (116,160) .. (c22.north -| 107,0);
\draw[e] (r01858.south -| 154,0) .. controls (160,146) and (170,157) .. (c286.north -| 177,0);
\draw[e] (c22.south -| 91,0) -- (r00006.north -| 91,0);
\draw[e] (c22.south -| 105,0) .. controls (112,238) and (128,258) .. (r00224.west |- 0,268);
\draw[e] (r00006.south -| 85,0) .. controls (82,304) and (74,322) .. (c11a.north -| 68.8,0);
\draw[e] (r00006.south -| 98,0) .. controls (100,298) and (104,312) .. (c908.north -| 107.2,0);
\draw[e] (r00224.south -| 170,0) -- (c84.north -| 170,0);
\draw[e] (r00224.south -| 182,0) .. controls (188,302) and (200,320) .. (c11b.north -| 208.5,0);
\draw[e] (c84.south -| 176.5,0) .. controls (186,392) and (194,404) .. (210,411) .. controls (235,421) and (270,425) .. (r00710.west |- 0,428);
\draw[e] (c3a.south -| 319,0) -- (r00710.north -| 319,0);
\draw[e] (c1a.south -| 415,0) .. controls (406,395) and (380,412) .. (r00710.east |- 0,426);
\draw[e] (r00710.west |- 0,436) .. controls (270,444) and (236,462) .. (c33.north -| 221.8,0);
\draw[e] (r00710.south -| 319,0) -- (c4a.north -| 319,0);
\draw[e] (r00710.east |- 0,436) .. controls (375,446) and (408,462) .. (c80a.north -| 417,0);
\draw[e] (c33.south -| 215.8,0) .. controls (218,540) and (222,556) .. (r00235.north -| 226,0);
\draw[e] (c2.south -| 479.8,0) .. controls (468,540) and (455,545) .. (444,548) .. controls (380,566) and (310,576) .. (r00235.east |- 0,580);
\draw[e] (r00235.west |- 0,585) .. controls (165,595) and (125,606) .. (c24.north -| 94,0);
\draw[e] (r00235.south -| 219,0) .. controls (200,602) and (185,614) .. (c13a.north -| 170.9,0);
\draw[e] (r00235.south -| 233.4,0) .. controls (235,604) and (237,614) .. (c20.north -| 240.2,0);
\draw[e] (c24.south -| 93.7,0) .. controls (100,676) and (105,679) .. (110,682) .. controls (160,700) and (250,708) .. (r00472.west |- 0,716);
\draw[e] (c48.south -| 336.3,0) -- (r00472.north -| 336.3,0);
\draw[e] (c1b.south -| 371,0) .. controls (362,680) and (352,694) .. (r00472.north -| 344.3,0);
\draw[e] (r00472.south -| 326.3,0) .. controls (312,748) and (294,768) .. (c149.north -| 285.6,0);
\draw[e] (r00472.south -| 341.8,0) .. controls (345,738) and (349,746) .. (c10.north -| 351.9,0);
\draw[e] (c10.north -| 406.6,0) .. controls (416,725) and (424,700) .. (424,671) .. controls (424,640) and (412,620) .. (399,610) .. controls (365,594) and (300,585) .. (r00235.east |- 0,583);
\draw[e] (c149.south -| 268,0) -- (r00214.north -| 268,0);
\draw[e] (c3b.south -| 471,0) .. controls (462,862) and (450,868) .. (430,875) .. controls (385,890) and (330,896) .. (r00214.east |- 0,901);
\draw[e] (r00214.west |- 0,899) .. controls (140,878) and (28,820) .. (28,690) .. controls (28,480) and (35,300) .. (c22.south -| 75,0);
\draw[e] (r00214.south -| 260,0) .. controls (252,932) and (240,950) .. (c11c.north -| 231,0);
\draw[e] (r00214.south -| 268,0) -- (c80b.north -| 268,0);
\draw[e] (r00214.south -| 281,0) .. controls (290,922) and (304,930) .. (c4b.north -| 317,0);
% connectors, middle
\draw[e] (c11d.south -| 665,0) .. controls (672,532) and (690,548) .. (726.5,568.3) .. controls (745,573) and (760,577) .. (r07500.west |- 0,579);
\draw[e] (c13b.south -| 742.6,0) .. controls (752,540) and (766,556) .. (r07500.north -| 779.5,0);
\draw[e] (c15882.south -| 832,0) .. controls (822,548) and (810,560) .. (r07500.north -| 801.8,0);
\draw[e] (r07500.south -| 790.6,0) -- (c5427.north -| 790.6,0);
\draw[e] (r07500.east |- 0,586) .. controls (835,590) and (860,598) .. (875,605.5) .. controls (885,610) and (895,615) .. (c544.west |- 0,620.6);
\draw[e] (c11e.south -| 991.7,0) .. controls (998,535) and (1008,552) .. (r02520.north -| 1014,0);
\draw[e] (c5585.south -| 1036,0) .. controls (1032,552) and (1028,560) .. (r02520.north -| 1024,0);
\draw[e] (c1f.south -| 1209,0) .. controls (1202,535) and (1195,545) .. (1190,549) .. controls (1160,566) and (1100,574) .. (r02520.east |- 0,579.6);
\draw[e] (r02520.south -| 1003,0) .. controls (990,604) and (972,618) .. (c544.east |- 0,629);
\draw[e] (r02520.south -| 1018.8,0) -- (c7f.north -| 1018.8,0);
\draw[e] (c11f.south -| 664,0) .. controls (666,680) and (668,694) .. (r02521.north -| 669.5,0);
\draw[e] (c544.west |- 0,679.7) .. controls (880,700) and (790,708) .. (r02521.east |- 0,718);
\draw[e] (r02521.south -| 664,0) .. controls (656,750) and (642,778) .. (c7g.north -| 634,0);
\draw[e] (r02521.south -| 678,0) .. controls (681,748) and (686,768) .. (c1179.north -| 691,0);
\draw[e] (c1179.south -| 698,0) -- (r03341.north -| 698,0);
\draw[e] (r03341.south -| 694,0) .. controls (690,930) and (684,948) .. (c11g.north -| 678.9,0);
\draw[e] (r03341.south -| 702.2,0) .. controls (704,920) and (707,930) .. (c3765.north -| 710.8,0);
\draw[e] (c3765.east |- 0,1010) .. controls (746,1018) and (754,1030) .. (r02382.north -| 761.3,0);
\draw[e] (c14.south -| 769.6,0) -- (r02382.north -| 769.6,0);
\draw[e] (c27a.south -| 809.9,0) .. controls (800,1004) and (788,1026) .. (r02382.north -| 777.5,0);
\draw[e] (r02382.south -| 759,0) .. controls (748,1080) and (732,1098) .. (c483.north -| 721.8,0);
\draw[e] (r02382.south -| 769.6,0) -- (c7h.north -| 769.6,0);
\draw[e] (r02382.south -| 777.7,0) .. controls (788,1082) and (800,1100) .. (c1h.north -| 808,0);
\draw[e] (c483.south -| 721,0) .. controls (738,1172) and (790,1186) .. (r02383.west |- 0,1205);
\draw[e] (c7i.south -| 864,0) .. controls (872,1156) and (890,1178) .. (r02383.north -| 904,0);
\draw[e] (c4c.south -| 937,0) .. controls (934,1180) and (928,1188) .. (r02383.north -| 922,0);
\draw[e] (c80c.south -| 1065,0) .. controls (1052,1182) and (1000,1192) .. (r02383.east |- 0,1205);
\draw[e] (r02383.west |- 0,1212) .. controls (830,1220) and (750,1232) .. (c3758.north -| 717,0);
\draw[e] (r02383.south -| 914,0) -- (c3c.north -| 914,0);
\draw[e] (r02383.east |- 0,1212) .. controls (975,1220) and (1008,1240) .. (c1i.north -| 1017,0);
\draw[e] (c11h.south -| 632,0) .. controls (638,1315) and (660,1332) .. (r02080.north -| 680.4,0);
\draw[e] (c3758.south -| 698,0) -- (r02080.north -| 698,0);
\draw[e] (c82.south -| 787.1,0) -- (r02078.north -| 787.1,0);
\draw[e] (c7j.south -| 1060,0) .. controls (1050,1342) and (980,1350) .. (r02078.east |- 0,1359.7);
\draw[e] (r02080.south -| 702,0) .. controls (704,1380) and (706,1388) .. (c355.north -| 709,0);
\draw[e] (r02078.south -| 769.6,0) .. controls (762,1380) and (752,1388) .. (c355.north -| 743,0);
\draw[e] (c355.north -| 750.5,0) .. controls (758,1392) and (768,1380) .. (r02078.south -| 777,0);
\draw[e] (r02078.south -| 787.1,0) -- (c1j.north -| 787.1,0);
\draw[e] (r02078.south -| 800.6,0) .. controls (808,1380) and (818,1388) .. (c822.north -| 825,0);
% connectors, right
\draw[e] (c90.south -| 1098.6,0) .. controls (1104,78) and (1110,88) .. (1131.8,102.8) .. controls (1145,108) and (1155,113) .. (r00818.west |- 0,116.4);
\draw[e] (c11i.south -| 1142.6,0) .. controls (1150,72) and (1160,92) .. (r00818.north -| 1177,0);
\draw[e] (c3d.south -| 1195,0) .. controls (1194,96) and (1192,102) .. (r00818.north -| 1190,0);
\draw[e] (c1k.south -| 1336,0) .. controls (1330,92) and (1265,108) .. (r00818.east |- 0,118);
\draw[e] (r00818.west |- 0,128.4) .. controls (1145,134) and (1120,148) .. (c805.north -| 1100.7,0);
\draw[e] (r00818.south -| 1176.8,0) .. controls (1165,148) and (1150,170) .. (c7k.north -| 1142.3,0);
\draw[e] (r00818.south -| 1197,0) .. controls (1200,142) and (1205,150) .. (c4d.north -| 1211,0);
\draw[e] (r00818.east |- 0,127) .. controls (1280,135) and (1332,155) .. (c80d.north -| 1340,0);
\draw[e] (c7l.south -| 1035,0) .. controls (1042,240) and (1075,248) .. (1130,256) .. controls (1170,262) and (1210,268) .. (r07709.west |- 0,271);
\draw[e] (c805.south -| 1099.4,0) .. controls (1110,238) and (1130,246) .. (1190,258) .. controls (1210,262) and (1230,266) .. (r07709.west |- 0,274);
\draw[e] (c4d.south -| 1265.5,0) -- (r07709.north -| 1265.5,0);
\draw[e] (c4e.west |- 0,236) .. controls (1345,248) and (1310,262) .. (r07709.east |- 0,272);
\draw[e] (c80e.south -| 1548,0) .. controls (1535,255) and (1400,265) .. (r07709.east |- 0,274);
\draw[e] (r07709.west |- 0,282) .. controls (1215,292) and (1188,305) .. (c628.north -| 1171.7,0);
\draw[e] (r07709.south -| 1265.5,0) -- (c3e.north -| 1265.5,0);
\draw[e] (r07709.east |- 0,282) .. controls (1320,290) and (1352,315) .. (c1l.north -| 1365,0);
\draw[e] (c27b.south -| 1096.6,0) .. controls (1103,378) and (1110,400) .. (r02657.north -| 1115,0);
\draw[e] (c628.south -| 1139,0) .. controls (1135,395) and (1131,405) .. (r02657.north -| 1127,0);
\draw[e] (r02657.west |- 0,442) .. controls (1097,450) and (1092,460) .. (c5585.north -| 1086.5,0);
\draw[e] (r02657.south -| 1121.3,0) -- (c7e.north -| 1121.3,0);
\draw[e] (r02657.south -| 1134,0) .. controls (1142,458) and (1152,478) .. (c1e.north -| 1159.6,0);
\end{tikzpicture}
\end{document}
